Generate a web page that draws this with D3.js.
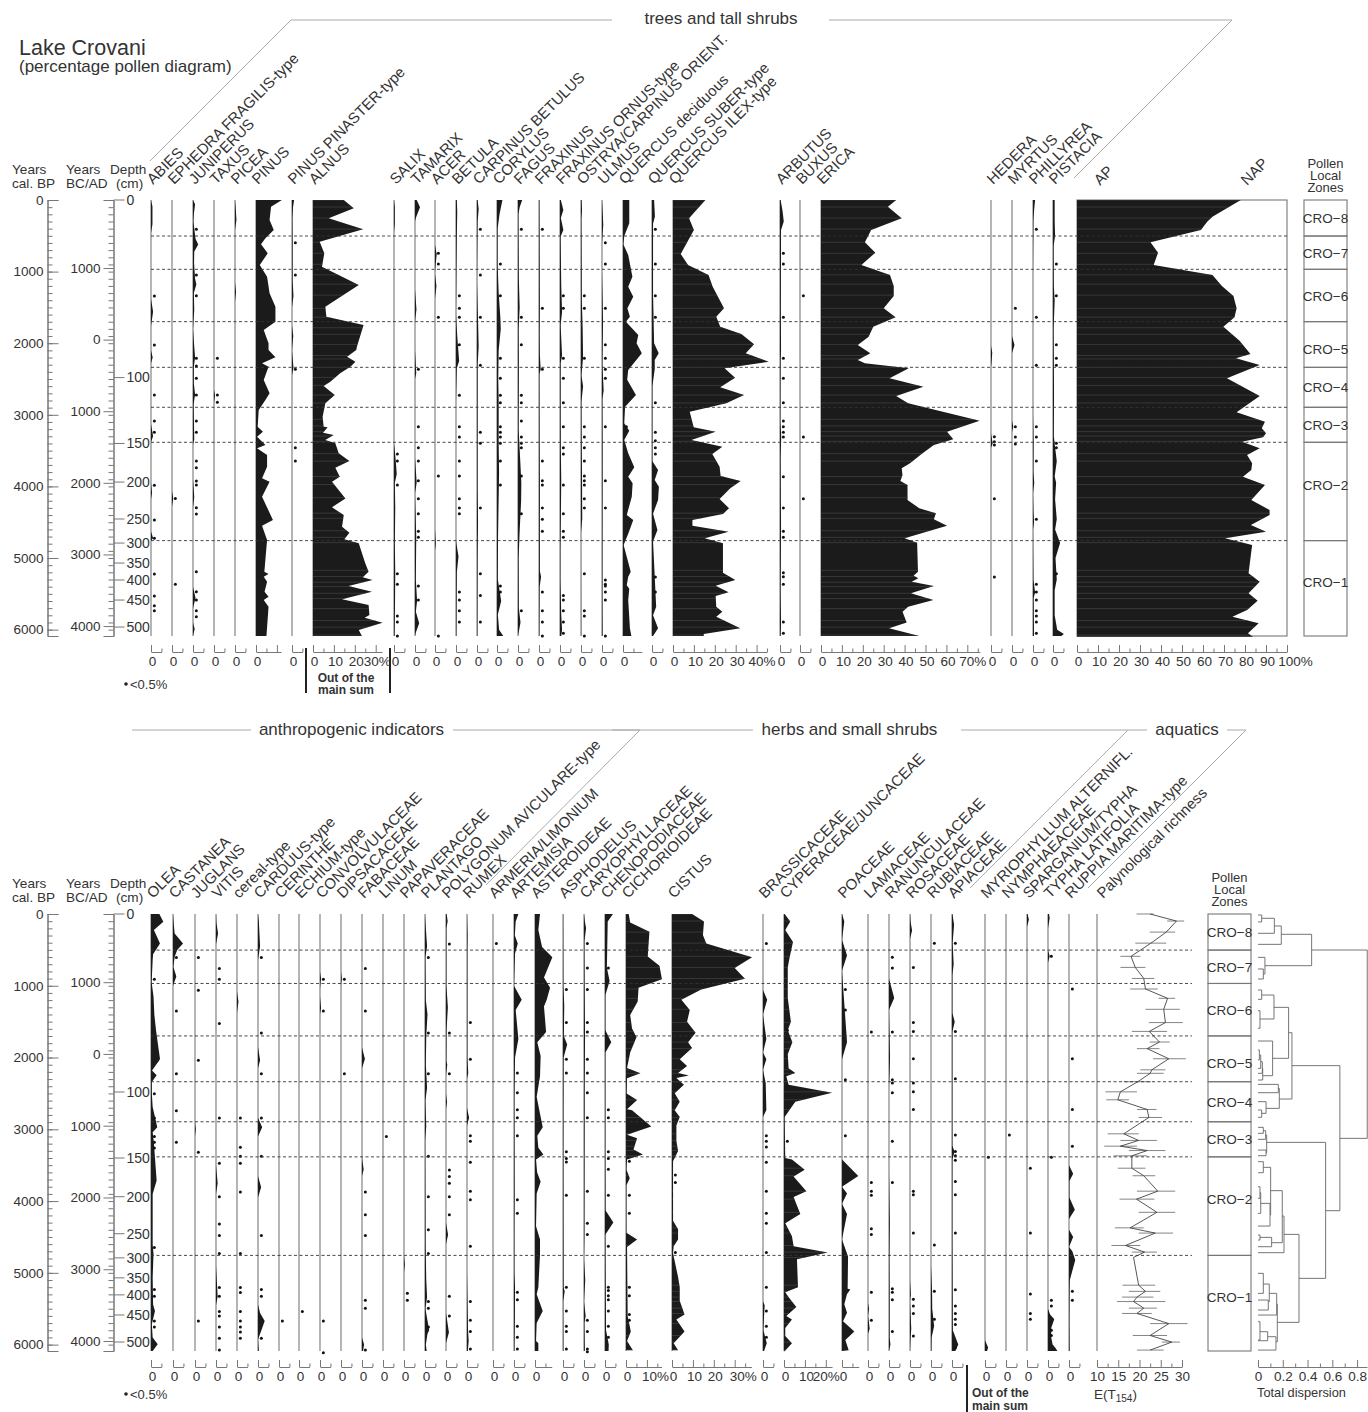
<!DOCTYPE html>
<html>
<head>
<meta charset="utf-8">
<script src="https://cdn.jsdelivr.net/npm/d3@7"></script>
<style>
body { margin: 0; background: #fff; }
text { font-family: "Liberation Sans", Arial, sans-serif; fill: #333; }
</style>
</head>
<body>
<svg id="chart" width="1368" height="1412"></svg>
<script>
// curves are [age cal BP, percent], dots are ages with a value under 0.5%
const abies = [[0,0],[90,.7],[340,.7],[460,0],[1380,0],[1560,1],[1760,0],[2100,0],[2200,.8],[2280,0],[3130,0],[3300,1],[3380,0],[3950,0],[4090,.5],[4180,0],[4630,0],[4720,1],[4760,0],[6089,0]]
const abiesDots = [1341,2025,2723,3086,3245,3985,4469,4725,5223,5530,5665,5735]
const ephedra = [[0,0],[4060,0],[4170,.6],[4280,0],[6089,0]]
const ephedraDots = [4167,5368]
const juniperus = [[0,0],[60,1],[200,.4],[300,.2],[540,1.2],[620,2.5],[720,.6],[880,.5],[1100,1],[1180,1.6],[1300,.4],[1540,.6],[1800,0],[2050,.6],[2200,1],[2330,.4],[2560,.4],[2720,1],[2850,.3],[3340,.6],[3420,0],[3900,0],[4150,.6],[4300,0],[5400,0],[5560,1.2],[5700,0],[5900,0],[5990,.8],[6089,0]]
const juniperusDots = [410,1047,1336,2211,2318,2491,2723,3086,3245,3645,3738,3924,3980,4297,4385,5191,5470,5586,5735,5819]
const taxus = [[0,0],[2650,0],[2726,.5],[2830,0],[6089,0]]
const taxusDots = [2211,2723,2826]
const picea = [[0,0],[100,.3],[280,.7],[420,0],[1150,0],[1280,.5],[1420,0],[6089,0]]
const pinus = [[0,12.4],[93,7.2],[279,6.5],[419,8.5],[535,4.5],[619,2.4],[745,5.6],[908,1.8],[1071,5.3],[1303,6.5],[1490,9.3],[1699,9.3],[1815,3.7],[2002,6],[2095,6],[2197,9.3],[2281,2.9],[2328,6],[2514,3.7],[2700,6.5],[2793,4.5],[2933,1.3],[3166,.8],[3235,3.3],[3305,.5],[3422,4.5],[3468,.5],[3561,5.3],[3724,5.3],[3887,2.9],[3934,6.5],[4143,2.9],[4469,8.1],[4548,2.9],[4749,5.3],[5191,4],[5223,6],[5260,3.7],[5330,5.3],[5470,4.1],[5540,6],[5586,3.7],[5680,6],[6089,5]]
const pinaster = [[0,1],[100,.5],[250,.2],[600,.3],[1120,.3],[1340,.7],[1500,0],[1750,0],[1900,.6],[2100,0],[2340,.7],[2450,0],[6089,0]]
const pinasterDots = [596,1047,2365,3459,3645]
const alnus = [[0,14.7],[116,19.5],[256,7.5],[410,24],[582,3.2],[745,5.4],[931,4.3],[1187,21.9],[1490,5.9],[1629,6.4],[1746,24.2],[2048,21],[2095,20.7],[2188,16.3],[2258,20.3],[2328,17.9],[2421,13],[2537,8.3],[2598,5.1],[2723,10.4],[2840,5.9],[3026,4.6],[3166,5.1],[3175,7],[3249,4.8],[3282,9.9],[3352,5.9],[3398,10.7],[3538,12.3],[3645,17.4],[3738,10.7],[3864,12.8],[3934,9.1],[4167,15.5],[4292,9.1],[4399,14.7],[4562,13.9],[4646,17.4],[4739,15],[4795,21.9],[5074,25],[5191,26.6],[5270,23.8],[5307,28.5],[5391,17],[5470,28.2],[5577,13.9],[5656,26.6],[5796,27],[5833,24.7],[5903,33.3],[6005,21.9],[6089,23.4]]
const salix = [[0,0],[100,.4],[330,.4],[450,0],[3400,0],[3470,.3],[3700,1],[3830,1.3],[3950,.4],[4300,.6],[4800,.4],[5200,.6],[5600,.5],[6089,.3]]
const salixDots = [3547,3645,3980,5809,5893,6089,5218,5367]
const tamarix = [[0,.8],[100,2.4],[250,.4],[300,0],[1250,0],[1530,.7],[1700,0],[2100,0],[2420,.6],[2500,0],[3600,0],[3950,.8],[4100,0],[4700,.6],[5300,.4],[5600,1],[5750,.4],[5910,2],[6040,.4],[6089,0]]
const tamarixDots = [2365,3165,3459,3645,3920,4171,4380,4627,4711,5390,5586]
const acer = [[0,0],[620,0],[760,.8],[900,.3],[1030,0],[1200,.7],[1380,0],[4600,0],[4800,.4],[4900,0],[6089,0]]
const acerDots = [745,894,1639,3854,6089]
const betula = [[0,.4],[160,.6],[500,.4],[1600,0],[1900,.6],[2250,1.5],[2350,.4],[2800,0],[4760,0],[4980,1.2],[5200,.4],[6089,.2]]
const betulaDots = [1336,1513,1639,2020,2728,3165,3310,3645,3854,4171,4301,4380,5474,5586,5735,5893]
const carpinus = [[0,.3],[130,.8],[300,.3],[1150,0],[1800,.6],[2050,.8],[2300,.3],[4000,.3],[4500,.5],[5000,.3],[6089,.2]]
const carpinusDots = [410,1047,1639,2309,3245,3398,4301,5218,5525,5893]
const corylus = [[0,2.6],[200,1.2],[400,.3],[900,.3],[1300,.8],[1640,1.6],[1800,1.8],[2100,.8],[2500,.6],[2800,.8],[3400,.8],[3800,1],[4700,.5],[5300,.4],[5600,2],[5790,.4],[6000,1],[6089,3]]
const corylusDots = [894,1336,2211,2490,2728,2830,3165,3245,3310,3398,3645,3980,5390,5474]
const fagus = [[0,2],[100,.8],[200,.2],[1100,.4],[1500,.8],[1800,.3],[2250,.4],[2500,.4],[3200,.3],[3600,1],[3950,1.6],[4200,1.5],[4620,.8],[5000,.3],[5700,.4],[5900,1.2],[6089,0]]
const fagusDots = [410,1639,2020,2728,2830,3086,3310,3398,3459,3854,4380,5735]
const fraxinus = [[0,.2],[1500,.4],[1900,.3],[2150,.4],[2365,.8],[2430,.2],[3400,.3],[3900,.4],[5180,.4],[5260,1],[5400,.3],[6089,.2]]
const fraxinusDots = [410,1513,2365,3645,3920,3980,4301,4459,4627,5474,5735,5893,6089]
const ornus = [[0,.4],[140,1.6],[250,.4],[330,1],[420,1.6],[510,.3],[1200,.6],[1560,1],[1750,.3],[2170,1],[2280,.3],[3000,.3],[3500,.4],[3900,.6],[4450,.4],[4900,.2],[5300,.2],[5800,.6],[6000,1],[6089,.6]]
const ornusDots = [1336,1513,2211,2490,2830,3165,3459,3547,3980,4380,4627,4711,5525,5586,5735,5893,6052]
const ostrya = [[0,.3],[150,.5],[260,.2],[1400,.4],[1800,.8],[2200,1],[2450,.2],[2600,1],[2820,.2],[3300,.3],[3900,.5],[4450,.6],[4650,0],[6089,.1]]
const ostryaDots = [1336,1513,2211,3165,3310,3459,3645,3854,3920,3980,4171,4301,5218,5735,5809,6089]
const ulmus = [[0,0],[150,.3],[350,.6],[600,0],[1000,0],[1400,.3],[1700,.5],[2300,.2],[2660,.8],[2780,.2],[3500,.3],[5500,.2],[6089,.3]]
const ulmusDots = [596,894,1513,2020,2211,2365,2490,3165,3920,4301,5307,5367,5390,5474,5586,6089]
const qDeciduous = [[0,3],[326,3],[503,.6],[620,.2],[768,2.5],[1071,4.5],[1210,2.5],[1350,4.9],[1513,2.1],[1629,3.3],[1699,1.4],[1885,7.3],[2002,6.5],[2141,9],[2258,5.7],[2374,2.5],[2510,2],[2723,6.2],[2886,1],[3119,.6],[3221,3],[3352,.6],[3538,2.5],[3733,5.4],[3864,2.5],[3957,4.6],[4143,4.2],[4399,1.8],[4469,4.9],[4660,2.5],[4818,.3],[5190,3.7],[5260,2.5],[5380,1.8],[5430,3],[5586,2.5],[5981,3.3],[6089,4]]
const qDeciduousDots = [3165]
const qSuber = [[0,1],[230,1.4],[330,.5],[1300,.5],[2000,1],[2141,3.2],[2234,1.3],[2360,1.3],[2600,.2],[3650,.2],[3770,2.9],[3910,1.3],[4003,3.3],[4190,2.9],[4380,.5],[4608,2.6],[4770,.5],[5680,2],[5800,.5],[5981,2.9],[6089,.5]]
const qSuberDots = [410,894,1336,1639,2830,3245,3361,3459,3547,5265,5474]
const qIlex = [[0,15.5],[256,7.7],[419,10],[754,3.7],[908,7.2],[1047,17],[1210,19],[1513,24.4],[1629,20.7],[1769,22.6],[1871,32.7],[2016,38.8],[2141,34.8],[2258,45.8],[2351,24.7],[2481,29.7],[2616,22.6],[2723,34],[2840,25.5],[2956,8],[3175,9.9],[3235,20.4],[3352,8.8],[3445,23.6],[3547,18.8],[3724,22.3],[3854,22.8],[3924,32.4],[4026,27.4],[4176,22.3],[4306,26.8],[4385,23.9],[4469,9.3],[4548,9.3],[4632,26.6],[4725,15.2],[4795,23.9],[5204,23.9],[5307,29.8],[5386,20.4],[5479,26.6],[5530,20.4],[5679,20.7],[5749,23.6],[5819,20.7],[5981,32.2],[6061,14.7],[6089,14.7]]
const arbutus = [[0,.3],[150,1.2],[300,1.8],[420,.5],[1500,.4],[2100,.5],[2250,.3],[3100,.2],[3300,.6],[3600,.3],[4200,.4],[4550,.5],[5500,.3],[5900,.5],[6089,.3]]
const arbutusDots = [745,894,1639,2211,2490,2830,3086,3165,3245,3310,3864,4301,4627,4711,5204,5260,5367,5893,6052]
const buxus = [[0,0],[6089,0]]
const buxusDots = [1336,3310,4171]
const erica = [[0,36],[93,32],[256,38.6],[419,24],[591,21],[735,26],[908,19.3],[1047,33],[1201,34.8],[1341,34.8],[1513,30],[1639,35.7],[1769,25],[1909,22.8],[2025,17.6],[2141,23.6],[2234,17.6],[2281,21],[2351,42],[2490,32.8],[2607,49],[2737,36],[2840,41.7],[3082,75.9],[3235,60.3],[3342,63.3],[3421,54],[3538,48.6],[3677,42.6],[3747,38.6],[3840,39],[3924,38],[3980,41.4],[4190,41.4],[4306,47],[4376,55],[4459,54],[4548,60.3],[4725,40],[4785,46],[5190,46.4],[5246,44.3],[5283,46.6],[5330,43.4],[5390,54],[5493,43],[5586,53.8],[5679,41.7],[5749,39],[5902,41],[5981,32.6],[6089,47]]
const hedera = [[0,0],[2040,0],[2130,.6],[2260,.3],[2340,0],[3260,0],[3400,.8],[3460,0],[6089,0]]
const hederaDots = [3305,3375,3421,4171,5265]
const myrtus = [[0,0],[1900,0],[2025,1.2],[2140,0],[3080,0],[3165,.6],[3240,0],[6089,0]]
const myrtusDots = [1513,3165,3310,3408]
const phillyrea = [[0,1],[120,.6],[280,.2],[1000,0],[3000,0],[3400,.3],[3800,.2],[3950,.6],[4100,0],[4340,.2],[4500,.5],[4600,0],[5300,.2],[5480,1],[5560,.3],[6089,.5]]
const phillyreaDots = [410,1639,2309,3165,3310,3645,4459,5367,5474,5586,5735,5809,5893,6052]
const pistacia = [[0,.8],[300,.8],[500,1],[640,.3],[1200,.4],[1400,.8],[1800,.3],[2700,.5],[3300,.4],[3650,1.8],[3860,.8],[3950,1.5],[4180,1],[4460,1.8],[4600,1],[4790,3.4],[5000,1.2],[5300,1.8],[5450,.8],[5800,.8],[6000,2],[6060,5.2],[6089,4]]
const pistaciaDots = [894,1336,2020,2211,2309,3398,3459,5218]
const ap = [[0,78],[233,64.5],[303,62],[419,59],[591,35],[735,38.6],[908,36.5],[1047,64.5],[1201,69],[1341,74.5],[1513,76],[1639,75],[1769,69.7],[1964,77.4],[2151,82.6],[2211,75.7],[2304,87],[2490,71.4],[2737,87],[2965,76],[3096,89.5],[3189,88],[3258,90],[3314,88.6],[3375,78.6],[3468,87],[3561,81],[3677,83.4],[3771,83],[3864,79],[3980,89.5],[4190,83],[4329,91.7],[4399,91.7],[4539,82.8],[4632,90],[4725,70.5],[4818,83.4],[5214,81.7],[5330,87],[5493,81.7],[5595,86],[5726,81],[5819,74],[5912,86.5],[6052,81.4],[6098,83.8]]

const olea = [[0,4],[107,5.9],[223,1.4],[410,4.3],[560,1],[642,.8],[950,.3],[1150,1.2],[1400,1.6],[1620,2.4],[1853,3.5],[2016,4.3],[2039,4],[2180,.5],[2248,2.7],[2340,.4],[2500,.4],[2690,.8],[2970,3],[3040,.8],[3160,1.3],[3715,2.7],[3900,.8],[4600,.8],[4739,1.2],[5065,.8],[5440,1],[5530,1.9],[5716,.4],[5900,.8],[5996,3.2],[6089,.8]]
const oleaDots = [908,2505,2844,3100,3179,3259,4646,5232,5325,5670,5754]
const castanea = [[0,0],[150,.4],[270,.8],[410,4.8],[500,2],[596,.8],[740,.2],[870,1.6],[1000,0],[6089,0]]
const castaneaDots = [605,1350,2225,2742,3179]
const juglans = [[0,0],[2900,0],[3000,.4],[3100,0],[6089,0]]
const juglansDots = [605,1061,2039,3319,5670]
const vitis = [[0,0],[120,.2],[270,1],[420,0],[3500,0],[3750,.8],[3900,0],[4900,0],[5330,.8],[5450,0],[6089,0]]
const vitisDots = [759,908,1527,2844,3473,3938,4320,4478,4730,5204,5325,5540,5600,5754,5912,6075]
const cereal = [[0,0],[1080,0],[1220,.7],[1380,0],[6089,0]]
const cerealDots = [2844,3249,3375,3473,3873,4730,5204,5274,5540,5670,5754,5823,5912]
const carduus = [[0,0],[100,.4],[450,1],[640,0],[1850,0],[2039,1],[2150,0],[2840,0],[2970,2],[3100,0],[3650,0],[3808,1.5],[3950,0],[5440,0],[5560,1],[5670,3.2],[5810,1.5],[5930,0],[6089,.4]]
const carduusDots = [605,1657,2225,2844,3375,4478,5232,5325,5912]
const cerinthe = [[0,0],[6089,0]]
const cerintheDots = [5670]
const echium = [[0,0],[6089,0]]
const echiumDots = [5540]
const convolvulaceae = [[0,0],[800,0],[900,.5],[1040,0],[1150,0],[1310,.5],[1400,0],[6089,0]]
const convolvulaceaeDots = [908,1350,5670,6112]
const dipsacaceae = [[0,0],[800,0],[900,.4],[1000,0],[6089,0]]
const dipsacaceaeDots = [908,2225]
const fabaceae = [[0,0],[1860,0],[2020,1.4],[2150,0],[3400,0],[3560,.8],[3650,0],[5900,0],[6000,1],[6089,.5]]
const fabaceaeDots = [759,1350,3873,4190,4478,5381,5493,6075]
const linum = [[0,0],[6089,0]]
const linumDots = [3100]
const papaveraceae = [[0,0],[4750,0],[4880,.4],[5000,0],[6089,0]]
const papaveraceaeDots = [5284,5381]
const plantago = [[0,0],[200,.4],[450,1],[600,.2],[1200,.4],[1400,1.2],[1700,.6],[2100,.4],[2420,1],[2600,.2],[2960,.6],[3150,.1],[3800,.2],[4600,.3],[5100,.6],[5340,1],[5500,.2],[5800,2],[5850,1.2],[6000,.4],[6089,.8]]
const plantagoDots = [605,1657,2225,3375,3938,4399,4730,5400,5493,5754]
const polygonum = [[0,.3],[100,.8],[200,.2],[1000,.2],[1300,.9],[1600,.3],[2050,.2],[2100,.6],[2250,0],[2500,0],[2620,.5],[2720,0],[4300,0],[4470,1],[4600,0],[5560,0],[5830,1.4],[5980,0],[6089,0]]
const polygonumDots = [419,1657,2225,3566,3659,3752,3938,4190,5325,5600]
const rumex = [[0,0],[300,.3],[500,.2],[2000,.2],[2214,.6],[2300,0],[2700,0],[2840,1],[2950,0],[5000,0],[5800,.5],[5950,.8],[6089,.4]]
const rumexDots = [1512,2024,3090,3166,3460,3863,3982,4631,5399,5660,5816,6062]
const armeria = [[0,0],[6089,0]]
const armeriaDots = [412]
const artemisia = [[0,2.1],[104,.8],[300,.4],[412,1.8],[550,.5],[1000,0],[1194,3.7],[1337,.8],[1740,2.1],[2000,.5],[2600,.2],[3700,.3],[4000,.3],[4400,.2],[5000,.2],[5200,.5],[5700,.4],[6089,.2]]
const artemisiaDots = [2214,2489,2726,2839,3090,3982,4171,5271,5375,5745,5897,6062]
const asteroideae = [[0,2.4],[223,1.6],[460,3.4],[602,8.3],[886,4.3],[1029,7.2],[1194,5.6],[1289,4.3],[1644,5.3],[1787,1.1],[1977,2.7],[2261,2.4],[2545,.8],[2782,2.4],[2972,3.7],[3090,1.1],[3256,1.6],[3351,4],[3422,.5],[3600,1],[3730,2.7],[3896,.8],[4350,.5],[4536,2.4],[4750,2.4],[5200,1.6],[5300,.8],[5532,3.7],[5700,.8],[5950,.5],[5982,1.6],[6089,1.6]]
const asphodelus = [[0,.1],[1000,.2],[1280,.6],[1700,.4],[1820,2],[2000,.3],[3300,.2],[5200,.3],[5260,.8],[5400,.1],[6089,.2]]
const asphodelusDots = [1052,1512,2024,2214,3313,3408,3455,3920,5200,5532,5745,5816,6062]
const caryophyllaceae = [[0,0],[100,.4],[200,1],[380,.2],[1000,.3],[1700,.5],[2500,.3],[3000,.3],[4500,.2],[4800,0],[5100,.6],[5400,0],[5600,.8],[5700,.2],[6089,.4]]
const caryophyllaceaeDots = [412,754,1052,1512,1645,2024,2214,2489,2839,3863,4309,4465,5660,5816,6062,6100]
const chenopodiaceae = [[0,3.8],[104,1.3],[750,.9],[934,2.2],[1130,.2],[1620,.2],[1787,3],[1930,.2],[3300,.2],[4130,.3],[4300,4],[4465,.2],[5800,.5],[6000,1.8],[6089,1.7]]
const chenopodiaceaeDots = [754,2726,2839,3313,3408,3555,3920,4631,5200,5247,5318,5375,5532,5745,5897]
const cichorioideae = [[0,1.3],[118,2],[246,11.2],[592,10.4],[720,16],[910,17.2],[1029,6],[1218,5.6],[1408,2],[1597,2.9],[1716,5],[1929,2],[2146,.5],[2218,6.9],[2289,.5],[2500,.3],[2593,5.3],[2720,.5],[2735,2.9],[2962,12.1],[3076,.5],[3124,5.3],[3280,3.6],[3351,8.1],[3422,.5],[3560,.2],[3683,1.8],[3780,.2],[4440,.2],[4536,5.3],[4640,.5],[5600,.8],[5816,2.3],[5950,.5],[6077,3.3]]
const cichorioideaeDots = [3446,3920,4171,5200,5318,5579,5660]
const cistus = [[0,9.6],[104,15.3],[294,14.8],[412,16.4],[602,38.3],[754,30],[901,34.9],[1052,14],[1194,4.5],[1337,8.5],[1503,7.2],[1654,11.3],[1787,7.7],[1868,9.6],[2024,3.7],[2119,7.2],[2214,2.9],[2252,8.1],[2285,2.1],[2379,5.7],[2498,1.3],[2616,3.7],[2735,1.3],[2830,3.7],[2948,2.1],[3162,2.1],[3304,2.9],[3446,.5],[4275,.5],[4394,2.9],[4536,2.9],[4631,.8],[4726,.5],[5058,2.9],[5200,3.7],[5389,3.7],[5579,6],[5650,2.1],[5816,6],[5982,.8],[6077,2.9]]
const cistusDots = [3636,3740,4716]
const brassicaceae = [[0,0],[1060,0],[1194,2],[1400,0],[1740,1.6],[1930,0],[2024,1.6],[2170,0],[2360,1.3],[2730,1.6],[2830,0],[5400,0],[5450,.8],[5600,.5],[5800,.2],[5982,1.8],[6089,.5]]
const brassicaceaeDots = [412,3090,3166,3247,3460,3863,4171,4309,4716,5200,5532,5745,5897]
const cyperaceae = [[0,.3],[104,3],[223,.6],[389,4.3],[602,2.7],[744,1.8],[1171,1.8],[1503,3.3],[1621,1.8],[1787,4],[1953,1.8],[2150,2.2],[2214,5.4],[2261,1.1],[2379,2.2],[2489,23],[2616,5.4],[2830,.3],[3400,.6],[3422,3.8],[3565,9.9],[3659,4.6],[3863,10.7],[3944,4.6],[4181,7.8],[4309,.6],[4489,3.8],[4631,4.6],[4716,20.9],[4811,6.2],[5200,6.7],[5271,.6],[5350,2.5],[5475,5.9],[5603,1.1],[5650,3.8],[5769,.6],[5880,.6],[5982,3.8],[6091,.3]]
const cyperaceaeDots = [1621,3166]
const poaceae = [[0,0],[104,1.1],[360,0],[578,2.4],[790,0],[1787,2.4],[2024,0],[3420,0],[3650,7.8],[3800,0],[3896,2.4],[4039,0],[4181,2.4],[4536,0],[4773,2.9],[5223,2.7],[5233,4],[5295,2.4],[5437,1.1],[5555,2.4],[5674,.5],[5816,5.9],[5934,1.6],[6077,3.2],[6089,0]]
const poaceaeDots = [1052,1337,2308,3090]
const lamiaceae = [[0,0],[5420,0],[5500,.5],[5600,0],[5680,.4],[5780,.8],[5850,0],[6089,0]]
const lamiaceaeDots = [1645,3740,3863,3920,4385,4465,5271,5660]
const ranunculaceae = [[0,0],[900,0],[1171,2.5],[1337,0],[2000,.5],[2200,.3],[2400,0],[3600,0],[4300,.4],[4800,.2],[5300,.3],[5900,.3],[6000,.7],[6089,0]]
const ranunculaceaeDots = [602,754,1645,2308,2356,2489,3166,3740,5223,5271,5375,5816]
const rosaceae = [[0,0],[110,.3],[230,1],[350,0],[5100,0],[5300,.4],[5400,0],[5780,.6],[5900,.3],[6089,0]]
const rosaceaeDots = [744,1513,1636,2017,2355,2478,2724,3862,3911,4446,5369,5461,5566,5879]
const rubiaceae = [[0,0],[4900,0],[5250,.5],[5500,.6],[5740,1.5],[5900,.3],[6089,.2]]
const rubiaceaeDots = [406,4612,5258,5646]
const apiaceae = [[0,.2],[150,1],[400,.3],[700,.8],[850,.2],[1380,.2],[1500,1.3],[1640,.2],[3230,.2],[3310,1.2],[3420,.2],[4500,.2],[5800,.4],[6000,3],[6089,1.6]]
const apiaceaeDots = [406,1636,2294,3081,3309,3370,3432,3727,3911,4446,5234,5461,5566,5646,5719,6045]
const myriophyllum = [[0,0],[5940,0],[6040,1.5],[6089,1]]
const myriophyllumDots = [3389]
const nymphaeaceae = [[0,0],[6089,0]]
const nymphaeaceaeDots = [3081]
const sparganium = [[0,.3],[80,.9],[180,0],[6089,0]]
const sparganiumDots = [3542,4446,5295,5566,5646]
const typha = [[0,.5],[60,.8],[200,0],[500,0],[590,.8],[680,0],[5500,0],[5580,1],[5646,3],[5760,1.6],[5890,1.5],[6000,2.2],[6045,3.5],[6089,4.5]]
const typhaDots = [590,3389,5381,5461,5800,5873]
const ruppia = [[0,0],[3500,0],[3620,2],[3720,.2],[3950,.2],[4120,2.8],[4250,0],[4400,0],[4500,2],[4640,0],[4700,1.6],[4820,3],[5100,.4],[5220,.3],[5700,.2],[6089,.3]]
const ruppiaDots = [1045,2017,2724,3235,5258,5381]

const richAges = [0,98,252,406,590,744,898,1045,1175,1328,1513,1636,1784,1876,2017,2171,2220,2337,2478,2589,2724,2835,3063,3155,3235,3296,3370,3542,3647,3862,3973,4157,4373,4446,4619,4711,4785,5172,5258,5338,5400,5492,5566,5707,5873,5965,6076]
const richValues = [22.5,28.7,26.3,22.7,18,19,21,21.4,26.6,25.7,26.1,22.3,24.7,21.8,26.9,22.9,22.5,19.6,15.5,14.9,21.8,22.2,16.3,19.8,15.5,21.8,18.2,18.2,21,24.3,19.3,24.1,17.8,23.7,16.7,21.2,18.6,19.8,21.4,19.4,18.6,21,19.4,26.9,22.5,27.6,22.5]
const richLow = [19.3,26.5,22.4,19,15.5,15.5,18.2,17.8,24.5,21.4,22.2,18.2,22.4,19.4,23.2,20.2,19.4,16.3,12,12.2,19.4,19.8,12.5,15.5,11.7,17.5,13.9,14.9,18.4,19.4,15.3,19.8,14.2,19.8,13.4,18.2,18.6,16,17.5,15.9,14.7,17.5,15.9,22.5,18.4,25.3,19.4]
const richHigh = [23.3,30.5,28.4,26.3,20.2,21.4,23.5,24.3,28.4,29.5,30.2,26.5,27.1,24.7,30.9,26.1,25.7,22.7,19.4,17.5,24,25.3,19.8,24.1,19.4,26.1,21.8,21.4,23.7,28.4,23.5,28.4,21,27.9,20.2,24.1,18.6,23.7,24.9,23.3,26.1,24.1,22.9,31.3,26.5,29.5,25.7]

const zoneNames = ["CRO-8","CRO-7","CRO-6","CRO-5","CRO-4","CRO-3","CRO-2","CRO-1"]
const zoneBreaks = [0,503,968,1699,2337,2895,3384,4757,6089]
const zoneLabelAges = [251,740,1345,2081,2620,3142,3980,5340]

const calTicks = [0,1000,2000,3000,4000,5000,6000]
const bcadTicks = [1000,0,-1000,-2000,-3000,-4000]
const depthTicks = [0,100,150,200,250,300,350,400,450,500]
const depthTickAges = [0,2480,3400,3939,4455,4791,5070,5307,5587,5964]

// cluster merges: age and dispersion of both branches, then dispersion of the join
const merges = [
  [14,0,111,0,.03],[60,.03,269,0,.132],[167,.132,423,0,.188],[283,.188,720,.056,.433],[502,.433,3126,.661,.882],[2113,.274,4134,.546,.661],
  [766,0,906,0,.043],[604,0,836,.043,.056],
  [1059,0,1189,0,.03],[1347,0,1593,0,.016],[1129,.03,1463,.016,.129],[1301,.129,2011,.118,.247],[1654,.247,2578,.172,.274],
  [1895,0,2034,0,.011],[1965,.011,2151,0,.022],[2058,.022,2220,0,.035],[2151,.035,2313,0,.038],[1770,0,2253,.038,.118],
  [2374,0,2490,0,.164],[2429,.164,2708,.065,.172],[2615,0,2778,.03,.065],[2731,0,2833,0,.03],
  [2973,0,3056,0,.043],[3019,.043,3140,0,.062],[3289,0,3368,0,.065],[3080,.062,3326,.065,.07],[3182,.07,5077,.331,.546],
  [3451,0,3605,0,.043],[3800,0,3962,0,.016],[3883,.016,4171,0,.022],[4032,.022,4348,0,.097],[3530,.043,4194,.097,.102],
  [4473,0,4543,0,.016],[4506,.016,4636,0,.11],[3855,.102,4580,.11,.196],[4208,.196,4719,0,.21],
  [5007,0,5286,0,.043],[5379,0,5518,0,.083],[5156,.043,5402,.083,.091],[5286,.091,5588,0,.151],
  [5681,0,5936,0,.016],[5820,.016,5946,0,.078],[5890,.078,6076,0,.145],[5435,.151,5960,.145,.156],[4464,.21,5690,.156,.331]
]

const topNames = ["ABIES","EPHEDRA FRAGILIS-type","JUNIPERUS","TAXUS","PICEA","PINUS","PINUS PINASTER-type","ALNUS","SALIX","TAMARIX","ACER","BETULA","CARPINUS BETULUS","CORYLUS","FAGUS","FRAXINUS","FRAXINUS ORNUS-type","OSTRYA/CARPINUS ORIENT.","ULMUS","QUERCUS deciduous","QUERCUS SUBER-type","QUERCUS ILEX-type","ARBUTUS","BUXUS","ERICA","HEDERA","MYRTUS","PHILLYREA","PISTACIA"]
const topX = [151,172,193,214,235,256,292,313,394,415,435,456,477,497,518,539,560,581,602,623,652,673,780,800,821,991,1012,1033,1053]
const topCurves = [abies,ephedra,juniperus,taxus,picea,pinus,pinaster,alnus,salix,tamarix,acer,betula,carpinus,corylus,fagus,fraxinus,ornus,ostrya,ulmus,qDeciduous,qSuber,qIlex,arbutus,buxus,erica,hedera,myrtus,phillyrea,pistacia]
const topDots = [abiesDots,ephedraDots,juniperusDots,taxusDots,[],[],pinasterDots,[],salixDots,tamarixDots,acerDots,betulaDots,carpinusDots,corylusDots,fagusDots,fraxinusDots,ornusDots,ostryaDots,ulmusDots,qDeciduousDots,qSuberDots,[],arbutusDots,buxusDots,[],hederaDots,myrtusDots,phillyreaDots,pistaciaDots]
const topMax = {"PINUS":12,"ALNUS":33,"QUERCUS deciduous":9,"QUERCUS ILEX-type":45,"ERICA":76}

const bottomNames = ["OLEA","CASTANEA","JUGLANS","VITIS","cereal-type","CARDUUS-type","CERINTHE","ECHIUM-type","CONVOLVULACEAE","DIPSACACEAE","FABACEAE","LINUM","PAPAVERACEAE","PLANTAGO","POLYGONUM AVICULARE-type","RUMEX","ARMERIA/LIMONIUM","ARTEMISIA","ASTEROIDEAE","ASPHODELUS","CARYOPHYLLACEAE","CHENOPODIACEAE","CICHORIOIDEAE","CISTUS","BRASSICACEAE","CYPERACEAE/JUNCACEAE","POACEAE","LAMIACEAE","RANUNCULACEAE","ROSACEAE","RUBIACEAE","APIACEAE","MYRIOPHYLLUM ALTERNIFL.","NYMPHAEACEAE","SPARGANIUM/TYPHA","TYPHA LATIFOLIA","RUPPIA MARITIMA-type"]
const bottomX = [151,173,195,216,237,258,279,299,320,341,362,383,404,425,446,467,493,514,535,563,584,605,626,672,763,784,842,868,889,910,931,952,985,1006,1027,1048,1069]
const bottomCurves = [olea,castanea,juglans,vitis,cereal,carduus,cerinthe,echium,convolvulaceae,dipsacaceae,fabaceae,linum,papaveraceae,plantago,polygonum,rumex,armeria,artemisia,asteroideae,asphodelus,caryophyllaceae,chenopodiaceae,cichorioideae,cistus,brassicaceae,cyperaceae,poaceae,lamiaceae,ranunculaceae,rosaceae,rubiaceae,apiaceae,myriophyllum,nymphaeaceae,sparganium,typha,ruppia]
const bottomDots = [oleaDots,castaneaDots,juglansDots,vitisDots,cerealDots,carduusDots,cerintheDots,echiumDots,convolvulaceaeDots,dipsacaceaeDots,fabaceaeDots,linumDots,papaveraceaeDots,plantagoDots,polygonumDots,rumexDots,armeriaDots,artemisiaDots,[],asphodelusDots,caryophyllaceaeDots,chenopodiaceaeDots,cichorioideaeDots,cistusDots,brassicaceaeDots,cyperaceaeDots,poaceaeDots,lamiaceaeDots,ranunculaceaeDots,rosaceaeDots,rubiaceaeDots,apiaceaeDots,myriophyllumDots,nymphaeaceaeDots,sparganiumDots,typhaDots,ruppiaDots]
const bottomMax = {"ASTEROIDEAE":8,"CICHORIOIDEAE":17,"CISTUS":38,"CYPERACEAE/JUNCACEAE":23,"POACEAE":8}

// how far the "%" label sits right of its tick
const percentShift = {"ALNUS":1,"QUERCUS ILEX-type":5,"ERICA":5,"CICHORIOIDEAE":8,"CISTUS":8,"CYPERACEAE/JUNCACEAE":0}

const pxPerPercent = 2.09
const black = "#1b1b1b"
const grey = "#777"
const svg = d3.select("#chart")
let clipCount = 0

const line = (pts, stroke, width) => svg.append("path")
  .attr("d", d3.line()(pts)).attr("fill", "none").attr("stroke", stroke || "#aaa").attr("stroke-width", width || 1)

const label = (x, y, s, size, anchor, weight) => svg.append("text")
  .attr("x", x).attr("y", y).attr("font-size", size).attr("text-anchor", anchor || "start")
  .attr("font-weight", weight || "normal").text(s)

// the three depth/age axes at the left of a panel
function ageAxes(y, top) {
  label(12, top - 26, "Years", 13.6); label(12, top - 12, "cal. BP", 13.6)
  label(66, top - 26, "Years", 13.6); label(66, top - 12, "BC/AD", 13.6)
  label(110, top - 26, "Depth", 13.6); label(116, top - 12, "(cm)", 13.6)

  let minor = d3.range(0, 6100, 100)
  let cal = svg.append("g").attr("transform", "translate(47.5,0)")
  cal.call(d3.axisLeft(y).tickValues(minor).tickSize(-5).tickFormat(""))
  cal.append("g").call(d3.axisLeft(y).tickValues(calTicks).tickSize(-11).tickPadding(4).tickFormat(d => d))

  let b = d3.scaleLinear().domain([1950, 1950 - 6089]).range([y(0), y(6089)])
  let bc = svg.append("g").attr("transform", "translate(113.5,0)")
  bc.call(d3.axisLeft(b).tickValues(d3.range(1950, -4139, -100)).tickSize(5).tickFormat(""))
  bc.append("g").call(d3.axisLeft(b).tickValues(bcadTicks).tickSize(10).tickPadding(3).tickFormat(d => Math.abs(d)))

  let depth = d3.scaleOrdinal().domain(depthTicks).range(depthTickAges.map(y))
  let dg = svg.append("g").attr("transform", "translate(113.5,0)")
  dg.selectAll("line").data(depthTicks).enter().append("line")
    .attr("x1", 0).attr("x2", 11).attr("y1", depth).attr("y2", depth).attr("stroke", grey)
  dg.selectAll("text").data(depthTicks).enter().append("text")
    .attr("x", 13).attr("y", depth).attr("dy", ".35em").attr("font-size", 14).text(d => d)

  svg.selectAll(".tick text").attr("font-size", 13.5).attr("font-family", null).style("fill", "#333")
  svg.selectAll(".tick line, .domain").attr("stroke", grey)
}

// pale hairlines at the sample levels across a black silhouette
function sampleLines(y, x0, x1, pathD) {
  let id = "clip" + (clipCount++)
  svg.append("clipPath").attr("id", id).append("path").attr("d", pathD)
  svg.append("g").attr("clip-path", "url(#" + id + ")").selectAll("line").data(richAges).enter().append("line")
    .attr("x1", x0).attr("x2", x1).attr("y1", d => y(d)).attr("y2", d => y(d))
    .attr("stroke", "#555").attr("stroke-width", .5)
}

// one taxon: baseline, silhouette, dots and its little axis
function column(y, x0, name, curve, dots, max, axisY, labelY, dx) {
  let x = d3.scaleLinear().domain([0, max]).range([x0, x0 + max * pxPerPercent])
  let bottom = y(6089)

  svg.append("line").attr("x1", x0).attr("x2", x0).attr("y1", y(0)).attr("y2", bottom)
    .attr("stroke", grey).attr("stroke-width", 1.1)

  let d = d3.area().x0(x0).x1(p => x(p[1])).y(p => y(p[0]))(curve)
  svg.append("path").attr("fill", black).attr("d", d)
  if (max > 12) sampleLines(y, x0, x0 + max * pxPerPercent, d)

  svg.append("g").selectAll("circle").data(dots).enter().append("circle")
    .attr("cx", x(1.6)).attr("cy", p => y(p)).attr("r", 1.5).attr("fill", "#111")

  let ticks = d3.range(0, max + .01, 5)
  let last = max > 12 ? d3.max(ticks.filter(t => t % 10 == 0)) : 0
  let fmt = t => (t == 0 ? "0" : (t % 10 == 0 && max > 12 ? (t == last ? t + "%" : t) : ""))
  let a = svg.append("g").attr("transform", "translate(0," + axisY + ")")
    .call(d3.axisBottom(x).tickValues(ticks).tickSizeOuter(0).tickSizeInner(-7).tickPadding(4).tickFormat(fmt))
  a.selectAll(".tick line").attr("y2", t => t % 10 == 0 ? -7 : -3.5).attr("stroke", grey)
  a.select(".domain").attr("stroke", grey)
  a.selectAll(".tick text").attr("font-size", 13.5).attr("font-family", null).style("fill", "#333")
    .attr("dx", t => t == last && t > 0 ? dx : 1)

  svg.append("text").attr("font-size", 15).attr("transform", "translate(" + (x0 + 2) + "," + labelY + ") rotate(-45)").text(name)
}

function zones(y, x0, x1, dashEnd) {
  zoneBreaks.slice(1, -1).forEach(b => {
    svg.append("line").attr("x1", 151).attr("x2", dashEnd).attr("y1", y(b)).attr("y2", y(b))
      .attr("stroke", "#333").attr("stroke-dasharray", "3,2.5").attr("stroke-width", .9)
  })
  zoneBreaks.slice(0, -1).forEach((b, i) => {
    svg.append("rect").attr("x", x0).attr("width", x1 - x0).attr("y", y(b)).attr("height", y(zoneBreaks[i + 1]) - y(b))
      .attr("fill", "none").attr("stroke", grey).attr("stroke-width", 1.1)
    svg.append("text").attr("x", (x0 + x1) / 2).attr("y", y(zoneLabelAges[i])).attr("dy", ".35em")
      .attr("text-anchor", "middle").attr("font-size", 13.5).text(zoneNames[i].replace("-", "\u2212"))
  })
  let mid = (x0 + x1) / 2
  label(mid, y(0) - 32, "Pollen", 13, "middle")
  label(mid, y(0) - 20, "Local", 13, "middle")
  label(mid, y(0) - 8, "Zones", 13, "middle")
}

function panel(y, names, xs, curves, dots, maxes, axisY, top) {
  ageAxes(y, top)
  names.forEach((n, i) => {
    column(y, xs[i], n, curves[i], dots[i], maxes[n] || 5, axisY, top - 15, percentShift[n] || 0)
  })
}

const yTop = d3.scaleLinear().domain([0, 6089]).range([200, 636])
const yBottom = d3.scaleLinear().domain([0, 6089]).range([914, 1351])

label(19, 55, "Lake Crovani", 21.5)
label(19, 72, "(percentage pollen diagram)", 17)

label(721, 24, "trees and tall shrubs", 17, "middle")
line([[150, 161], [291, 20], [612, 20]])
line([[829, 20], [1232, 20], [1074, 178]])

panel(yTop, topNames, topX, topCurves, topDots, topMax, 652, 200)

// AP / NAP block
const xAp = d3.scaleLinear().domain([0, 100]).range([1077, 1287])
svg.append("rect").attr("x", 1077).attr("y", 200).attr("width", 210).attr("height", 436)
  .attr("fill", "none").attr("stroke", grey).attr("stroke-width", 1.1)
let apPath = d3.area().x0(1077).x1(d => xAp(d[1])).y(d => yTop(d[0]))(ap)
svg.append("path").attr("fill", black).attr("d", apPath)
sampleLines(yTop, 1077, 1287, apPath)
let apAxis = svg.append("g").attr("transform", "translate(0,652)")
  .call(d3.axisBottom(xAp).tickValues(d3.range(0, 101, 5)).tickSizeOuter(0).tickSizeInner(-7).tickPadding(4)
    .tickFormat(d => d == 100 ? "100%" : (d % 10 == 0 ? d : "")))
apAxis.selectAll(".tick line").attr("y2", d => d % 10 == 0 ? -7 : -3.5).attr("stroke", grey)
apAxis.select(".domain").attr("stroke", grey)
apAxis.selectAll(".tick text").attr("font-size", 13.5).attr("font-family", null).style("fill", "#333")
  .attr("dx", d => d == 100 ? 8 : 1)
svg.append("text").attr("font-size", 15).attr("transform", "translate(1100,186) rotate(-45)").text("AP")
svg.append("text").attr("font-size", 15).attr("transform", "translate(1247,186) rotate(-45)").text("NAP")

zones(yTop, 1304, 1347, 1287)

svg.append("circle").attr("cx", 126).attr("cy", 684).attr("r", 1.8).attr("fill", "#222")
label(130, 689, "<0.5%", 13)
line([[306, 648], [306, 693]], "#222", 2)
line([[390, 648], [390, 693]], "#222", 2)
label(346, 682, "Out of the", 12, "middle", "bold")
label(346, 694, "main sum", 12, "middle", "bold")

// lower half
label(351.5, 735, "anthropogenic indicators", 17, "middle")
label(849.5, 735, "herbs and small shrubs", 17, "middle")
label(1187, 735, "aquatics", 17, "middle")
line([[132, 730], [251, 730]])
line([[453, 730], [640, 730], [486, 885]])
line([[612, 730], [753, 730]])
line([[961, 730], [1147, 730]])
line([[1128, 730], [970, 888]])
line([[1227, 730], [1246, 730], [1088, 888]])

panel(yBottom, bottomNames, bottomX, bottomCurves, bottomDots, bottomMax, 1367, 914)

// palynological richness with error bars
const xRich = d3.scaleLinear().domain([10, 30]).range([1097, 1182])
svg.append("line").attr("x1", 1097).attr("x2", 1097).attr("y1", 914).attr("y2", 1351).attr("stroke", grey).attr("stroke-width", 1.1)
svg.selectAll(".bar").data(richAges).enter().append("line").attr("class", "bar")
  .attr("x1", (d, i) => xRich(richLow[i])).attr("x2", (d, i) => xRich(richHigh[i]))
  .attr("y1", d => yBottom(d)).attr("y2", d => yBottom(d)).attr("stroke", "#666").attr("stroke-width", .8)
svg.append("path").datum(richAges).attr("fill", "none").attr("stroke", "#444").attr("stroke-width", .9)
  .attr("d", d3.line().x((d, i) => xRich(richValues[i])).y(d => yBottom(d)))
let richAxis = svg.append("g").attr("transform", "translate(0,1367)")
  .call(d3.axisBottom(xRich).tickValues(d3.range(10, 30.1, 2.5)).tickSizeOuter(0).tickSizeInner(-7).tickPadding(4)
    .tickFormat(d => d % 5 == 0 ? d : ""))
richAxis.selectAll(".tick line").attr("y2", d => d % 5 == 0 ? -7 : -3.5).attr("stroke", grey)
richAxis.select(".domain").attr("stroke", grey)
richAxis.selectAll(".tick text").attr("font-size", 13.5).attr("font-family", null).style("fill", "#333")
svg.append("text").attr("font-size", 15).attr("transform", "translate(1103,899) rotate(-45)").text("Palynological richness")
let eT = label(1094, 1399, "E(T", 13.5, "start")
eT.append("tspan").attr("font-size", 10).attr("dy", 3).text("154")
eT.append("tspan").attr("dy", -3).text(")")

zones(yBottom, 1208, 1251, 1192)

// dendrogram
const xDisp = d3.scaleLinear().domain([0, .88]).range([1258, 1367])
svg.append("g").selectAll("path").data(merges).enter().append("path")
  .attr("fill", "none").attr("stroke", "#666").attr("stroke-width", .9)
  .attr("d", m => d3.line()([[xDisp(m[1]), yBottom(m[0])], [xDisp(m[4]), yBottom(m[0])], [xDisp(m[4]), yBottom(m[2])], [xDisp(m[3]), yBottom(m[2])]]))
let dispAxis = svg.append("g").attr("transform", "translate(0,1367)")
  .call(d3.axisBottom(xDisp).tickValues(d3.range(0, .85, .1)).tickSizeOuter(0).tickSizeInner(-7).tickPadding(4)
    .tickFormat(d => Math.round(d * 10) % 2 == 0 ? (d == 0 ? "0" : d3.format(".1f")(d)) : ""))
dispAxis.selectAll(".tick line").attr("y2", (d, i) => i % 2 == 0 ? -7 : -3.5).attr("stroke", grey)
dispAxis.select(".domain").attr("stroke", grey)
dispAxis.selectAll(".tick text").attr("font-size", 13.5).attr("font-family", null).style("fill", "#333")
label(1257, 1397, "Total dispersion", 12.8)

// other notes under the lower panel
svg.append("circle").attr("cx", 126).attr("cy", 1394).attr("r", 1.8).attr("fill", "#222")
label(130, 1399, "<0.5%", 13)
line([[967, 1365], [967, 1412]], "#222", 2)
label(972, 1397, "Out of the", 12, "start", "bold")
label(972, 1410, "main sum", 12, "start", "bold")
</script>
</body>
</html>
